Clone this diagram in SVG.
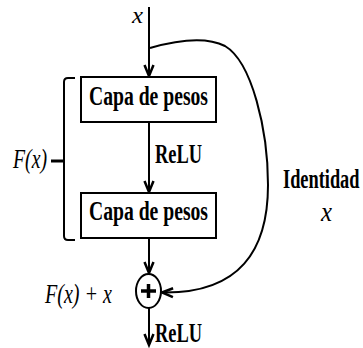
<svg xmlns="http://www.w3.org/2000/svg" width="363" height="348" viewBox="0 0 363 348">
<defs>
<style>
.ln{fill:none;stroke:#000;stroke-width:2}
.box{fill:#fff;stroke:#000;stroke-width:2}
.b{font-family:"Liberation Serif","Times New Roman",serif;font-weight:bold;font-size:28px;fill:#000}
.i{font-family:"Liberation Serif","Times New Roman",serif;font-style:italic;font-size:28px;fill:#000}
</style>
<marker id="ah" markerUnits="userSpaceOnUse" markerWidth="16" markerHeight="16" viewBox="-12 -8 14 16" refX="0" refY="0" orient="auto">
<path d="M-11,-4.5 L0,0 L-11,4.5" fill="none" stroke="#000" stroke-width="2.5"/>
</marker>
</defs>
<rect width="363" height="348" fill="#fff"/>
<g id="connectors">
<line class="ln" x1="149" y1="7" x2="149" y2="76" marker-end="url(#ah)"/>
<line class="ln" x1="149" y1="122" x2="149" y2="192" marker-end="url(#ah)"/>
<line class="ln" x1="149" y1="238" x2="149" y2="273" marker-end="url(#ah)"/>
<line class="ln" x1="149" y1="308" x2="149" y2="345" marker-end="url(#ah)"/>
<path class="ln" d="M150,48 C178,40 205,36 225,46 C252,62 268,130 268,185 C268,250 240,294 162,292.5" marker-end="url(#ah)"/>
</g>
<g id="input">
<text class="i" x="132" y="23" style="font-size:24px" textLength="11" lengthAdjust="spacingAndGlyphs">x</text>
</g>
<g id="layer1">
<rect class="box" x="81" y="77" width="135" height="45"/>
<text class="b" x="89" y="105" textLength="119" lengthAdjust="spacingAndGlyphs">Capa de pesos</text>
</g>
<g id="relu1">
<text class="b" x="155" y="163" textLength="47" lengthAdjust="spacingAndGlyphs">ReLU</text>
</g>
<g id="layer2">
<rect class="box" x="81" y="193" width="135" height="45"/>
<text class="b" x="89" y="220" textLength="119" lengthAdjust="spacingAndGlyphs">Capa de pesos</text>
</g>
<g id="bracket">
<path class="ln" d="M75,78 L68,78 Q64,78 64,82 L64,236 Q64,240 68,240 L75,240"/>
<line x1="51" y1="161" x2="64" y2="161" stroke="#000" stroke-width="3"/>
<text class="i" x="13" y="168" textLength="34" lengthAdjust="spacingAndGlyphs">F(x)</text>
</g>
<g id="sum">
<ellipse cx="148.5" cy="291" rx="12.5" ry="17" fill="#fff" stroke="#000" stroke-width="2"/>
<line x1="141" y1="291" x2="156" y2="291" stroke="#000" stroke-width="3.5"/>
<line x1="148.5" y1="284" x2="148.5" y2="298" stroke="#000" stroke-width="3.5"/>
<text class="i" x="45" y="303" textLength="67" lengthAdjust="spacingAndGlyphs">F(x) + x</text>
</g>
<g id="identity">
<text class="b" transform="translate(283,188) scale(0.68,1)" x="0" y="0" style="font-size:27px">Identidad</text>
<text class="i" x="321" y="221" textLength="11" lengthAdjust="spacingAndGlyphs">x</text>
</g>
<g id="relu2">
<text class="b" x="155" y="342" textLength="47" lengthAdjust="spacingAndGlyphs">ReLU</text>
</g>
</svg>
